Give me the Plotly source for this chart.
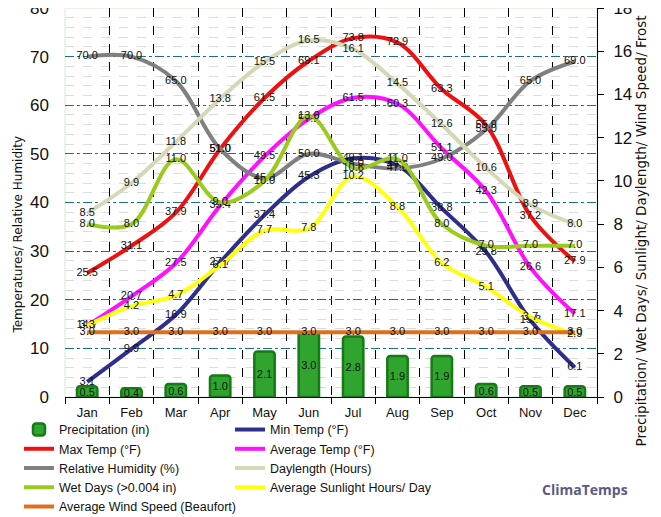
import plotly.graph_objects as go

months = ["Jan", "Feb", "Mar", "Apr", "May", "Jun", "Jul", "Aug", "Sep", "Oct", "Nov", "Dec"]
precipitation = [0.5, 0.4, 0.6, 1.0, 2.1, 3.0, 2.8, 1.9, 1.9, 0.6, 0.5, 0.5]
min_temp = [3.1, 9.9, 16.9, 27.7, 37.4, 45.3, 49.1, 47.6, 38.8, 29.8, 15.8, 6.1]
max_temp = [25.5, 31.1, 37.9, 51.0, 61.5, 69.1, 73.8, 72.9, 63.3, 55.9, 37.2, 27.9]
avg_temp = [14.7, 20.7, 27.5, 39.4, 49.5, 57.2, 61.5, 60.3, 51.1, 42.3, 26.6, 17.1]
humidity = [70.0, 70.0, 65.0, 51.0, 45.0, 50.0, 48.0, 47.0, 49.0, 55.0, 65.0, 69.0]
daylength = [8.5, 9.9, 11.8, 13.8, 15.5, 16.5, 16.1, 14.5, 12.6, 10.6, 8.9, 8.0]
wet_days = [8.0, 8.0, 11.0, 9.0, 10.0, 13.0, 10.6, 11.0, 8.0, 7.0, 7.0, 7.0]
sunlight = [3.3, 4.2, 4.7, 6.1, 7.7, 7.8, 10.2, 8.8, 6.2, 5.1, 3.7, 2.9]
wind = [3.0, 3.0, 3.0, 3.0, 3.0, 3.0, 3.0, 3.0, 3.0, 3.0, 3.0, 3.0]

FONT = "Liberation Sans, Arial, sans-serif"
TITLE_FONT = "DejaVu Sans, Verdana, sans-serif"
LEG_FONT = "Liberation Sans Narrow, Arial Narrow, Liberation Sans, sans-serif"

fig = go.Figure()

fig.add_trace(go.Bar(
    x=months, y=precipitation, yaxis="y2", name="Precipitation (in)",
    marker=dict(color="#2fa52f", line=dict(color="#167a16", width=2.5), cornerradius=3),
    width=0.46,
    text=[f"{v:.1f}" for v in precipitation], textposition="inside",
    insidetextanchor="middle", textangle=0, constraintext="none",
    textfont=dict(family=FONT, size=11, color="#111"),
))

line_series = [
    ("Min Temp (°F)", min_temp, "y", "#2e2e8c"),
    ("Max Temp (°F)", max_temp, "y", "#ee1111"),
    ("Average Temp (°F)", avg_temp, "y", "#ff10ff"),
    ("Relative Humidity (%)", humidity, "y", "#808080"),
    ("Daylength (Hours)", daylength, "y2", "#d5d8b6"),
    ("Wet Days (>0.004 in)", wet_days, "y2", "#9acb1c"),
    ("Average Sunlight Hours/ Day", sunlight, "y2", "#ffff10"),
    ("Average Wind Speed (Beaufort)", wind, "y2", "#dd7020"),
]

for name, vals, ax, col in line_series:
    fig.add_trace(go.Scatter(
        x=months, y=vals, yaxis=ax, name=name, mode="lines",
        line=dict(color=col, width=4, shape="spline", smoothing=1),
    ))

for name, vals, ax, col in line_series:
    fig.add_trace(go.Scatter(
        x=months, y=vals, yaxis=ax, mode="text", showlegend=False,
        text=[f"{v:.1f}" for v in vals], textposition="middle center",
        textfont=dict(family=FONT, size=11, color="#111"), hoverinfo="skip",
    ))

# page body has an 8px default margin, so the figure is sized/placed to compensate
fig.update_layout(
    width=653, height=509,
    margin=dict(l=57, r=64, t=0, b=120, autoexpand=False),
    paper_bgcolor="white", plot_bgcolor="white",
    font=dict(family=FONT, color="#111"),
    bargap=0.5,
    xaxis=dict(
        range=[-0.5, 11.5], tickson="boundaries", ticks="outside", ticklen=6,
        tickcolor="black", showline=True, linecolor="black", linewidth=1,
        showgrid=True, gridcolor="black", griddash="dash", gridwidth=1,
        tickfont=dict(size=13, color="#111"), zeroline=False, automargin=False,
        ticklabelstandoff=3,
    ),
    yaxis=dict(
        range=[0, 80], dtick=10, showgrid=True, gridcolor="#1f6a96",
        griddash="dashdot", gridwidth=1, zeroline=False, showline=False,
        tickfont=dict(size=17, color="#111"), ticklabelstandoff=15, automargin=False,
        ticklabeloverflow="allow",
        minor=dict(dtick=2, showgrid=True, gridcolor="#dcdcdc", griddash="dash", gridwidth=1),
    ),
    yaxis2=dict(
        range=[0, 18], dtick=2, overlaying="y", side="right", showgrid=False,
        zeroline=False, showline=True, linecolor="black", linewidth=1,
        ticks="outside", ticklen=6, tickcolor="black", ticklabelstandoff=6,
        tickfont=dict(size=17, color="#111"), automargin=False,
        ticklabeloverflow="allow",
    ),
    legend=dict(
        orientation="h", x=-0.0865, xanchor="left", y=-0.046, yanchor="top",
        entrywidth=166, entrywidthmode="pixels", itemwidth=30,
        font=dict(family=LEG_FONT, size=12.5, color="#111"), tracegroupgap=0,
        bgcolor="rgba(0,0,0,0)",
    ),
    shapes=[dict(type="rect", xref="paper", yref="paper", x0=0, x1=1, y0=0, y1=1,
                 line=dict(color="#d6ebd0", width=1), layer="below")],
    annotations=[
        dict(text="<b>ClimaTemps</b>", xref="paper", yref="paper",
             x=0.977, y=-0.239, xanchor="center", yanchor="middle",
             showarrow=False, font=dict(size=14, color="#5a5a86", family="Open Sans, sans-serif")),
        dict(text="Temperatures/ Relative Humidity", xref="paper", yref="paper",
             x=-0.088, y=0.418, xanchor="center", yanchor="middle", textangle=-90,
             showarrow=False, font=dict(size=12, color="#111", family=TITLE_FONT)),
        dict(text="Precipitation/ Wet Days/ Sunlight/ Daylength/ Wind Speed/ Frost",
             xref="paper", yref="paper",
             x=1.082, y=0.427, xanchor="center", yanchor="middle", textangle=-90,
             showarrow=False, font=dict(size=13.5, color="#111", family=TITLE_FONT)),
    ],
)

fig.write_html("out.html")
